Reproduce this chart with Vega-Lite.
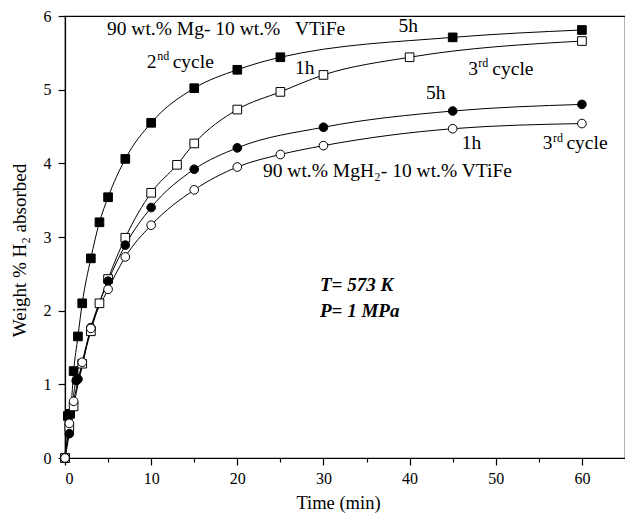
{
  "$schema": "https://vega.github.io/schema/vega-lite/v6.json",
  "width": 560,
  "height": 442,
  "autosize": {"type": "none"},
  "padding": {"left": 65, "top": 16, "right": 0, "bottom": 55},
  "background": "white",
  "config": {
    "view": {"stroke": "black", "strokeWidth": 1.2},
    "font": "Liberation Serif",
    "axis": {
      "grid": false,
      "domainColor": "black",
      "domainWidth": 1.2,
      "tickColor": "black",
      "tickWidth": 1.2,
      "labelColor": "black",
      "labelFont": "Liberation Serif",
      "labelFontSize": 16,
      "titleFont": "Liberation Serif",
      "titleFontSize": 19,
      "titleFontWeight": "normal",
      "titleColor": "black"
    }
  },
  "datasets": {
    "curves": [
      {"t": 0, "w": 0.0, "s": "Mg-VTiFe 5h"},
      {"t": 0.33, "w": 0.57, "s": "Mg-VTiFe 5h"},
      {"t": 0.6, "w": 0.6, "s": "Mg-VTiFe 5h"},
      {"t": 1, "w": 1.18, "s": "Mg-VTiFe 5h"},
      {"t": 1.5, "w": 1.65, "s": "Mg-VTiFe 5h"},
      {"t": 2, "w": 2.1, "s": "Mg-VTiFe 5h"},
      {"t": 3, "w": 2.71, "s": "Mg-VTiFe 5h"},
      {"t": 4, "w": 3.2, "s": "Mg-VTiFe 5h"},
      {"t": 5, "w": 3.54, "s": "Mg-VTiFe 5h"},
      {"t": 7, "w": 4.06, "s": "Mg-VTiFe 5h"},
      {"t": 10, "w": 4.55, "s": "Mg-VTiFe 5h"},
      {"t": 15, "w": 5.02, "s": "Mg-VTiFe 5h"},
      {"t": 20, "w": 5.27, "s": "Mg-VTiFe 5h"},
      {"t": 25, "w": 5.44, "s": "Mg-VTiFe 5h"},
      {"t": 45, "w": 5.71, "s": "Mg-VTiFe 5h"},
      {"t": 60, "w": 5.81, "s": "Mg-VTiFe 5h"},
      {"t": 0, "w": 0.0, "s": "Mg-VTiFe 1h"},
      {"t": 0.5, "w": 0.42, "s": "Mg-VTiFe 1h"},
      {"t": 1, "w": 0.7, "s": "Mg-VTiFe 1h"},
      {"t": 2, "w": 1.28, "s": "Mg-VTiFe 1h"},
      {"t": 3, "w": 1.72, "s": "Mg-VTiFe 1h"},
      {"t": 4, "w": 2.1, "s": "Mg-VTiFe 1h"},
      {"t": 5, "w": 2.43, "s": "Mg-VTiFe 1h"},
      {"t": 7, "w": 2.99, "s": "Mg-VTiFe 1h"},
      {"t": 10, "w": 3.6, "s": "Mg-VTiFe 1h"},
      {"t": 13, "w": 3.98, "s": "Mg-VTiFe 1h"},
      {"t": 15, "w": 4.27, "s": "Mg-VTiFe 1h"},
      {"t": 20, "w": 4.73, "s": "Mg-VTiFe 1h"},
      {"t": 25, "w": 4.97, "s": "Mg-VTiFe 1h"},
      {"t": 30, "w": 5.2, "s": "Mg-VTiFe 1h"},
      {"t": 40, "w": 5.44, "s": "Mg-VTiFe 1h"},
      {"t": 60, "w": 5.66, "s": "Mg-VTiFe 1h"},
      {"t": 0, "w": 0.0, "s": "MgH2-VTiFe 5h"},
      {"t": 0.5, "w": 0.33, "s": "MgH2-VTiFe 5h"},
      {"t": 1.3, "w": 1.05, "s": "MgH2-VTiFe 5h"},
      {"t": 1.5, "w": 1.07, "s": "MgH2-VTiFe 5h"},
      {"t": 3, "w": 1.77, "s": "MgH2-VTiFe 5h"},
      {"t": 5, "w": 2.4, "s": "MgH2-VTiFe 5h"},
      {"t": 7, "w": 2.89, "s": "MgH2-VTiFe 5h"},
      {"t": 10, "w": 3.4, "s": "MgH2-VTiFe 5h"},
      {"t": 15, "w": 3.92, "s": "MgH2-VTiFe 5h"},
      {"t": 20, "w": 4.21, "s": "MgH2-VTiFe 5h"},
      {"t": 30, "w": 4.49, "s": "MgH2-VTiFe 5h"},
      {"t": 45, "w": 4.71, "s": "MgH2-VTiFe 5h"},
      {"t": 60, "w": 4.8, "s": "MgH2-VTiFe 5h"},
      {"t": 0, "w": 0.0, "s": "MgH2-VTiFe 1h"},
      {"t": 0.5, "w": 0.47, "s": "MgH2-VTiFe 1h"},
      {"t": 1, "w": 0.77, "s": "MgH2-VTiFe 1h"},
      {"t": 2, "w": 1.3, "s": "MgH2-VTiFe 1h"},
      {"t": 3, "w": 1.76, "s": "MgH2-VTiFe 1h"},
      {"t": 5, "w": 2.29, "s": "MgH2-VTiFe 1h"},
      {"t": 7, "w": 2.73, "s": "MgH2-VTiFe 1h"},
      {"t": 10, "w": 3.16, "s": "MgH2-VTiFe 1h"},
      {"t": 15, "w": 3.64, "s": "MgH2-VTiFe 1h"},
      {"t": 20, "w": 3.95, "s": "MgH2-VTiFe 1h"},
      {"t": 25, "w": 4.12, "s": "MgH2-VTiFe 1h"},
      {"t": 30, "w": 4.24, "s": "MgH2-VTiFe 1h"},
      {"t": 45, "w": 4.47, "s": "MgH2-VTiFe 1h"},
      {"t": 60, "w": 4.54, "s": "MgH2-VTiFe 1h"}
    ],
    "labels": [
      {"x": 4.87, "y": 5.82, "text": "90 wt.% Mg- 10 wt.%\u00a0\u00a0\u00a0VTiFe"},
      {"x": 9.48, "y": 5.38, "text": "2"},
      {"x": 12.5, "y": 5.38, "text": "cycle"},
      {"x": 26.7, "y": 5.29, "text": "1h"},
      {"x": 38.7, "y": 5.86, "text": "5h"},
      {"x": 46.8, "y": 5.28, "text": "3"},
      {"x": 49.6, "y": 5.28, "text": "cycle"},
      {"x": 41.9, "y": 4.95, "text": "5h"},
      {"x": 46.05, "y": 4.27, "text": "1h"},
      {"x": 55.45, "y": 4.27, "text": "3"},
      {"x": 58.2, "y": 4.27, "text": "cycle"},
      {"x": 22.98, "y": 3.89, "text": "90 wt.% MgH₂- 10 wt.% VTiFe"}
    ],
    "sups": [
      {"x": 10.72, "y": 5.46, "text": "nd"},
      {"x": 47.98, "y": 5.36, "text": "rd"},
      {"x": 56.63, "y": 4.35, "text": "rd"}
    ],
    "conditions": [
      {"x": 29.6, "y": 2.35, "text": "T= 573 K"},
      {"x": 29.6, "y": 1.99, "text": "P= 1 MPa"}
    ]
  },
  "layer": [
    {
      "data": {"name": "curves"},
      "mark": {"type": "line", "interpolate": "monotone", "color": "black", "strokeWidth": 1},
      "encoding": {
        "x": {
          "field": "t", "type": "quantitative",
          "scale": {"domain": [0, 65], "nice": false, "zero": false},
          "axis": {
            "title": "Time (min)",
            "titleFontSize": 18.5,
            "values": [0, 5, 10, 15, 20, 25, 30, 35, 40, 45, 50, 55, 60],
            "labelExpr": "datum.value % 10 === 0 ? format(datum.value, 'd') : ''",
            "tickSize": {"condition": {"test": "datum.value % 10 !== 0", "value": 4}, "value": 7},
            "labelPadding": 5,
            "titleX": 273,
            "titleY": 44,
            "titleBaseline": "middle",
            "titleAnchor": "middle",
            "titleAlign": "center"
          }
        },
        "y": {
          "field": "w", "type": "quantitative",
          "scale": {"domain": [0, 6], "nice": false},
          "axis": {
            "title": "Weight % H₂ absorbed",
            "values": [0, 0.5, 1, 1.5, 2, 2.5, 3, 3.5, 4, 4.5, 5, 5.5, 6],
            "labelExpr": "datum.value % 1 === 0 ? format(datum.value, 'd') : ''",
            "tickSize": {"condition": {"test": "datum.value % 1 !== 0", "value": 4}, "value": 7},
            "labelPadding": 7,
            "titleX": -46,
            "titleY": 234,
            "titleBaseline": "middle",
            "titleAlign": "center",
            "titleAngle": -90
          }
        },
        "detail": {"field": "s", "type": "nominal"}
      }
    },
    {
      "data": {"name": "curves"},
      "mark": {"type": "point", "filled": true, "stroke": "black", "strokeWidth": 1, "opacity": 1},
      "encoding": {
        "x": {"field": "t", "type": "quantitative"},
        "y": {"field": "w", "type": "quantitative"},
        "shape": {
          "field": "s", "type": "nominal", "legend": null,
          "scale": {"domain": ["Mg-VTiFe 5h", "Mg-VTiFe 1h", "MgH2-VTiFe 5h", "MgH2-VTiFe 1h"], "range": ["square", "square", "circle", "circle"]}
        },
        "fill": {
          "field": "s", "type": "nominal", "legend": null,
          "scale": {"domain": ["Mg-VTiFe 5h", "Mg-VTiFe 1h", "MgH2-VTiFe 5h", "MgH2-VTiFe 1h"], "range": ["black", "white", "black", "white"]}
        },
        "size": {"value": 75}
      }
    },
    {
      "data": {"name": "labels"},
      "mark": {"type": "text", "align": "left", "baseline": "middle", "font": "Liberation Serif", "fontSize": 19.5, "color": "black"},
      "encoding": {
        "x": {"field": "x", "type": "quantitative"},
        "y": {"field": "y", "type": "quantitative"},
        "text": {"field": "text"}
      }
    },
    {
      "data": {"name": "sups"},
      "mark": {"type": "text", "align": "left", "baseline": "middle", "font": "Liberation Serif", "fontSize": 12, "color": "black"},
      "encoding": {
        "x": {"field": "x", "type": "quantitative"},
        "y": {"field": "y", "type": "quantitative"},
        "text": {"field": "text"}
      }
    },
    {
      "data": {"name": "conditions"},
      "mark": {"type": "text", "align": "left", "baseline": "middle", "font": "Liberation Serif", "fontSize": 19, "fontStyle": "italic", "fontWeight": "bold", "color": "black"},
      "encoding": {
        "x": {"field": "x", "type": "quantitative"},
        "y": {"field": "y", "type": "quantitative"},
        "text": {"field": "text"}
      }
    }
  ]
}
